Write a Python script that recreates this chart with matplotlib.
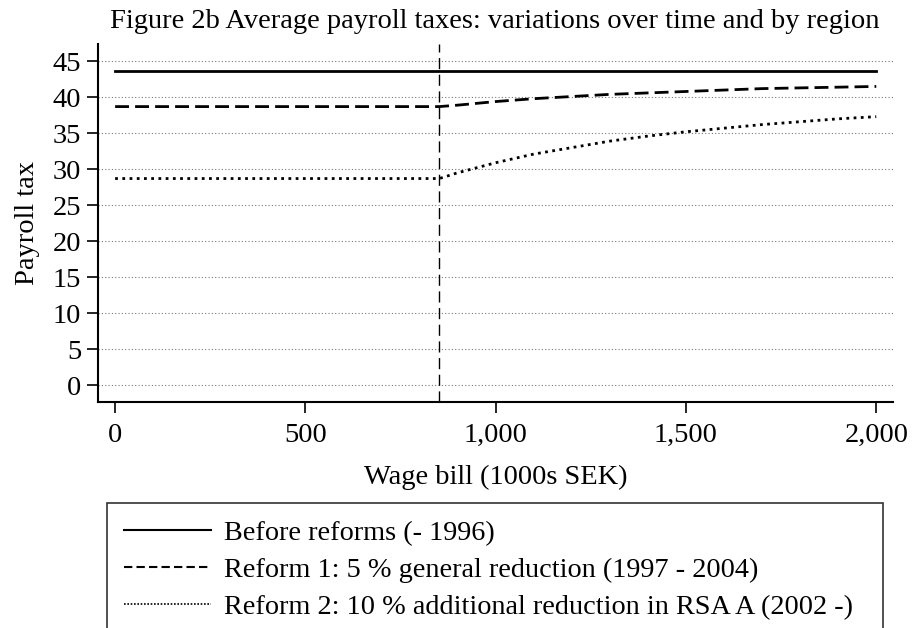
import matplotlib
matplotlib.use('Agg')
import matplotlib.pyplot as plt

plt.rcParams['font.family'] = ['Liberation Serif', 'DejaVu Serif']
plt.rcParams['font.size'] = 20.5

# Wage bill (1000s SEK) and average payroll tax (%)
wage_flat = [0, 852]
wage_curve = [852, 900, 1000, 1100, 1200, 1300, 1400, 1500, 1600, 1700, 1800, 1900, 2000]

before = [43.7, 43.7]
before_x = [0, 2000]

reform1_flat = [38.7, 38.7]
reform1_curve = [38.7, 38.9, 39.4, 39.8, 40.1, 40.4, 40.6, 40.8, 41.0, 41.2, 41.3, 41.4, 41.5]

reform2_flat = [28.7, 28.7]
reform2_curve = [28.7, 29.5, 30.9, 32.1, 33.0, 33.9, 34.6, 35.2, 35.7, 36.2, 36.6, 37.0, 37.3]

threshold = 852

labels = ['Before reforms (- 1996)',
          'Reform 1: 5 % general reduction (1997 - 2004)',
          'Reform 2: 10 % additional reduction in RSA A (2002 -)']

fig = plt.figure(figsize=(9.13, 6.28), dpi=100)
ax = fig.add_axes([98 / 913, 1 - 402 / 628, (893 - 98) / 913, (402 - 44) / 628])

# horizontal grid
for v in range(0, 50, 5):
    ax.axhline(v, color='#777777', lw=0.8, ls=(0, (1, 2)), zorder=1)

ax.axvline(threshold, color='black', lw=1.0, ls=(0, (8, 4)), zorder=2)

l1, = ax.plot(before_x, before, color='black', lw=2, ls='-')
l2, = ax.plot(wage_flat + wage_curve[1:], reform1_flat + reform1_curve[1:],
              color='black', lw=2, ls=(0, (5, 2.2)))
l3, = ax.plot(wage_flat + wage_curve[1:], reform2_flat + reform2_curve[1:],
              color='black', lw=2, ls=(0, (1, 1.6)))

ax.set_xlim(-45, 2044)
ax.set_ylim(-2.36, 47.4)
ax.set_xticks([0, 500, 1000, 1500, 2000])
ax.set_xticklabels(['0', '500', '1,000', '1,500', '2,000'])
ax.set_yticks(range(0, 50, 5))
ax.tick_params(direction='out', length=8, width=1.2, colors='black')
ax.tick_params(axis='x', pad=7)
ax.tick_params(axis='y', pad=4)

for s in ['top', 'right']:
    ax.spines[s].set_visible(False)
for s in ['left', 'bottom']:
    ax.spines[s].set_linewidth(1.5)

ax.set_xlabel('Wage bill (1000s SEK)', labelpad=12)
ax.set_ylabel('Payroll tax', labelpad=9)
fig.text(495 / 913, 1 - 22 / 628, 'Figure 2b Average payroll taxes: variations over time and by region',
         ha='center', va='center', fontsize=20.5)

# legend handles with thinner lines like the original key
h1, = ax.plot([], [], color='black', lw=1.5, ls='-')
h2, = ax.plot([], [], color='black', lw=1.5, ls=(0, (4, 2)))
h3, = ax.plot([], [], color='black', lw=1.2, ls=(0, (1, 1)))
leg = fig.legend([h1, h2, h3], labels, loc='upper left',
                 bbox_to_anchor=(107 / 913, -0.5, (883 - 107) / 913, 0.5 + (1 - 503 / 628)),
                 mode='expand', borderaxespad=0, frameon=True, fancybox=False,
                 handlelength=3.1, handletextpad=0.45, labelspacing=0.4,
                 borderpad=0.6, fontsize=20.3)
leg.get_frame().set_edgecolor('black')
leg.get_frame().set_linewidth(1.2)

fig.savefig('out.png', dpi=100)
